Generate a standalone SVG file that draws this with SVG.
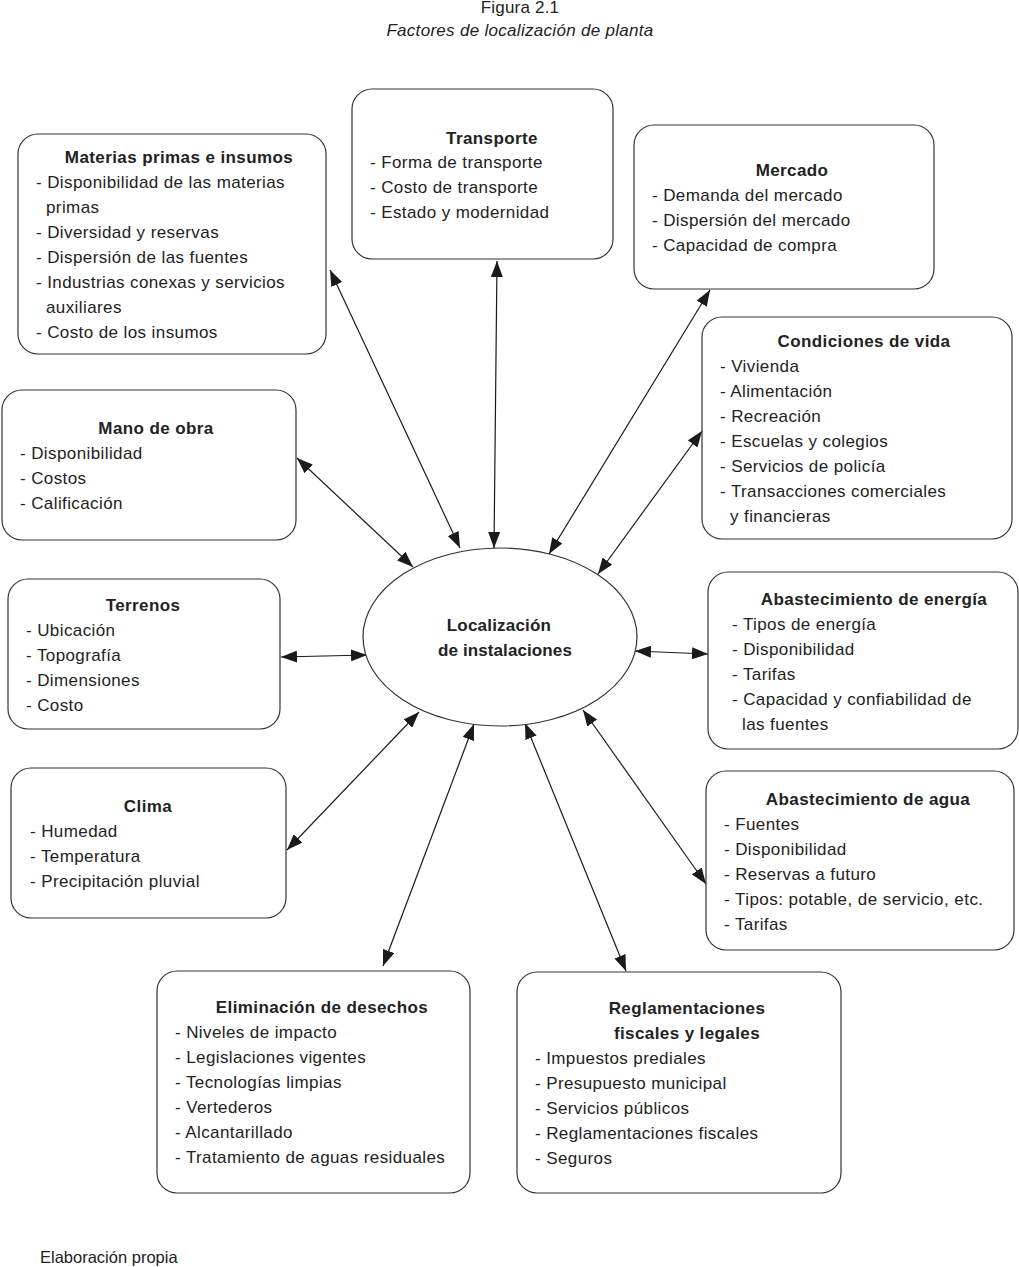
<svg xmlns="http://www.w3.org/2000/svg" width="1019" height="1267" viewBox="0 0 1019 1267">
<defs>
<marker id="ah" viewBox="0 0 16 12" refX="16" refY="6" markerWidth="16" markerHeight="12" markerUnits="userSpaceOnUse" orient="auto-start-reverse">
<path d="M0,0 L16,6 L0,12 Z" fill="#1a1a1a"/>
</marker>
</defs>
<style>
text{font-family:"Liberation Sans",Arial,sans-serif;font-size:17px;letter-spacing:0.4px;fill:#222}
.t{font-weight:bold;text-anchor:middle}
.box{fill:#fff;stroke:#333;stroke-width:1.2}
.c{stroke:#1a1a1a;stroke-width:1.2;fill:none;marker-start:url(#ah);marker-end:url(#ah)}
</style>
<rect width="1019" height="1267" fill="#fff"/>
<text x="520" y="13" text-anchor="middle" style="letter-spacing:0.2px">Figura 2.1</text>
<text x="520" y="36" text-anchor="middle" font-style="italic" style="letter-spacing:0.3px">Factores de localización de planta</text>
<text x="40" y="1263" style="font-size:16.5px;letter-spacing:0">Elaboración propia</text>

<g id="connectors">
<line class="c" x1="330" y1="270" x2="460" y2="548"/>
<line class="c" x1="497" y1="261" x2="494" y2="548"/>
<line class="c" x1="710" y1="290" x2="549" y2="554"/>
<line class="c" x1="702" y1="431" x2="598" y2="574"/>
<line class="c" x1="297" y1="458" x2="413" y2="567"/>
<line class="c" x1="281" y1="657" x2="367" y2="655"/>
<line class="c" x1="635" y1="651" x2="708" y2="654"/>
<line class="c" x1="287" y1="850" x2="419" y2="712"/>
<line class="c" x1="706" y1="884" x2="583" y2="710"/>
<line class="c" x1="383" y1="966" x2="474" y2="724"/>
<line class="c" x1="626" y1="971" x2="525" y2="723"/>
</g>

<g id="center">
<ellipse cx="500" cy="637" rx="137" ry="89" fill="#fff" stroke="#333" stroke-width="1.2"/>
<text class="t" x="499" y="631" style="letter-spacing:0.2px">Localización</text>
<text class="t" x="505" y="656" style="letter-spacing:0.1px">de instalaciones</text>
</g>

<g id="materias">
<rect class="box" x="18" y="134" width="308" height="220" rx="20"/>
<text class="t" x="179" y="163">Materias primas e insumos</text>
<text x="36" y="188">- Disponibilidad de las materias</text>
<text x="46" y="213">primas</text>
<text x="36" y="238">- Diversidad y reservas</text>
<text x="36" y="263">- Dispersión de las fuentes</text>
<text x="36" y="288">- Industrias conexas y servicios</text>
<text x="46" y="313">auxiliares</text>
<text x="36" y="338">- Costo de los insumos</text>
</g>

<g id="transporte">
<rect class="box" x="352" y="89" width="261" height="170" rx="20"/>
<text class="t" x="492" y="144">Transporte</text>
<text x="370" y="168">- Forma de transporte</text>
<text x="370" y="193">- Costo de transporte</text>
<text x="370" y="218">- Estado y modernidad</text>
</g>

<g id="mercado">
<rect class="box" x="634" y="125" width="300" height="164" rx="20"/>
<text class="t" x="792" y="176">Mercado</text>
<text x="652" y="201">- Demanda del mercado</text>
<text x="652" y="226">- Dispersión del mercado</text>
<text x="652" y="251">- Capacidad de compra</text>
</g>

<g id="condiciones">
<rect class="box" x="702" y="317" width="310" height="222" rx="20"/>
<text class="t" x="864" y="347">Condiciones de vida</text>
<text x="720" y="372">- Vivienda</text>
<text x="720" y="397">- Alimentación</text>
<text x="720" y="422">- Recreación</text>
<text x="720" y="447">- Escuelas y colegios</text>
<text x="720" y="472">- Servicios de policía</text>
<text x="720" y="497">- Transacciones comerciales</text>
<text x="730" y="522">y financieras</text>
</g>

<g id="mano">
<rect class="box" x="2" y="390" width="294" height="150" rx="20"/>
<text class="t" x="156" y="434">Mano de obra</text>
<text x="20" y="459">- Disponibilidad</text>
<text x="20" y="484">- Costos</text>
<text x="20" y="509">- Calificación</text>
</g>

<g id="terrenos">
<rect class="box" x="8" y="579" width="272" height="150" rx="20"/>
<text class="t" x="143" y="611">Terrenos</text>
<text x="26" y="636">- Ubicación</text>
<text x="26" y="661">- Topografía</text>
<text x="26" y="686">- Dimensiones</text>
<text x="26" y="711">- Costo</text>
</g>

<g id="energia">
<rect class="box" x="708" y="572" width="310" height="177" rx="20"/>
<text class="t" x="874" y="605">Abastecimiento de energía</text>
<text x="732" y="630">- Tipos de energía</text>
<text x="732" y="655">- Disponibilidad</text>
<text x="732" y="680">- Tarifas</text>
<text x="732" y="705">- Capacidad y confiabilidad de</text>
<text x="742" y="730">las fuentes</text>
</g>

<g id="clima">
<rect class="box" x="11" y="768" width="275" height="150" rx="20"/>
<text class="t" x="148" y="812">Clima</text>
<text x="30" y="837">- Humedad</text>
<text x="30" y="862">- Temperatura</text>
<text x="30" y="887">- Precipitación pluvial</text>
</g>

<g id="agua">
<rect class="box" x="706" y="771" width="308" height="179" rx="20"/>
<text class="t" x="868" y="805">Abastecimiento de agua</text>
<text x="724" y="830">- Fuentes</text>
<text x="724" y="855">- Disponibilidad</text>
<text x="724" y="880">- Reservas a futuro</text>
<text x="724" y="905" style="letter-spacing:0.45px">- Tipos: potable, de servicio, etc.</text>
<text x="724" y="930">- Tarifas</text>
</g>

<g id="desechos">
<rect class="box" x="157" y="971" width="313" height="222" rx="20"/>
<text class="t" x="322" y="1013">Eliminación de desechos</text>
<text x="175" y="1038">- Niveles de impacto</text>
<text x="175" y="1063">- Legislaciones vigentes</text>
<text x="175" y="1088">- Tecnologías limpias</text>
<text x="175" y="1113">- Vertederos</text>
<text x="175" y="1138">- Alcantarillado</text>
<text x="175" y="1163">- Tratamiento de aguas residuales</text>
</g>

<g id="reglamentaciones">
<rect class="box" x="517" y="972" width="324" height="221" rx="20"/>
<text class="t" x="687" y="1014">Reglamentaciones</text>
<text class="t" x="687" y="1039">fiscales y legales</text>
<text x="535" y="1064">- Impuestos prediales</text>
<text x="535" y="1089">- Presupuesto municipal</text>
<text x="535" y="1114">- Servicios públicos</text>
<text x="535" y="1139">- Reglamentaciones fiscales</text>
<text x="535" y="1164">- Seguros</text>
</g>
</svg>
